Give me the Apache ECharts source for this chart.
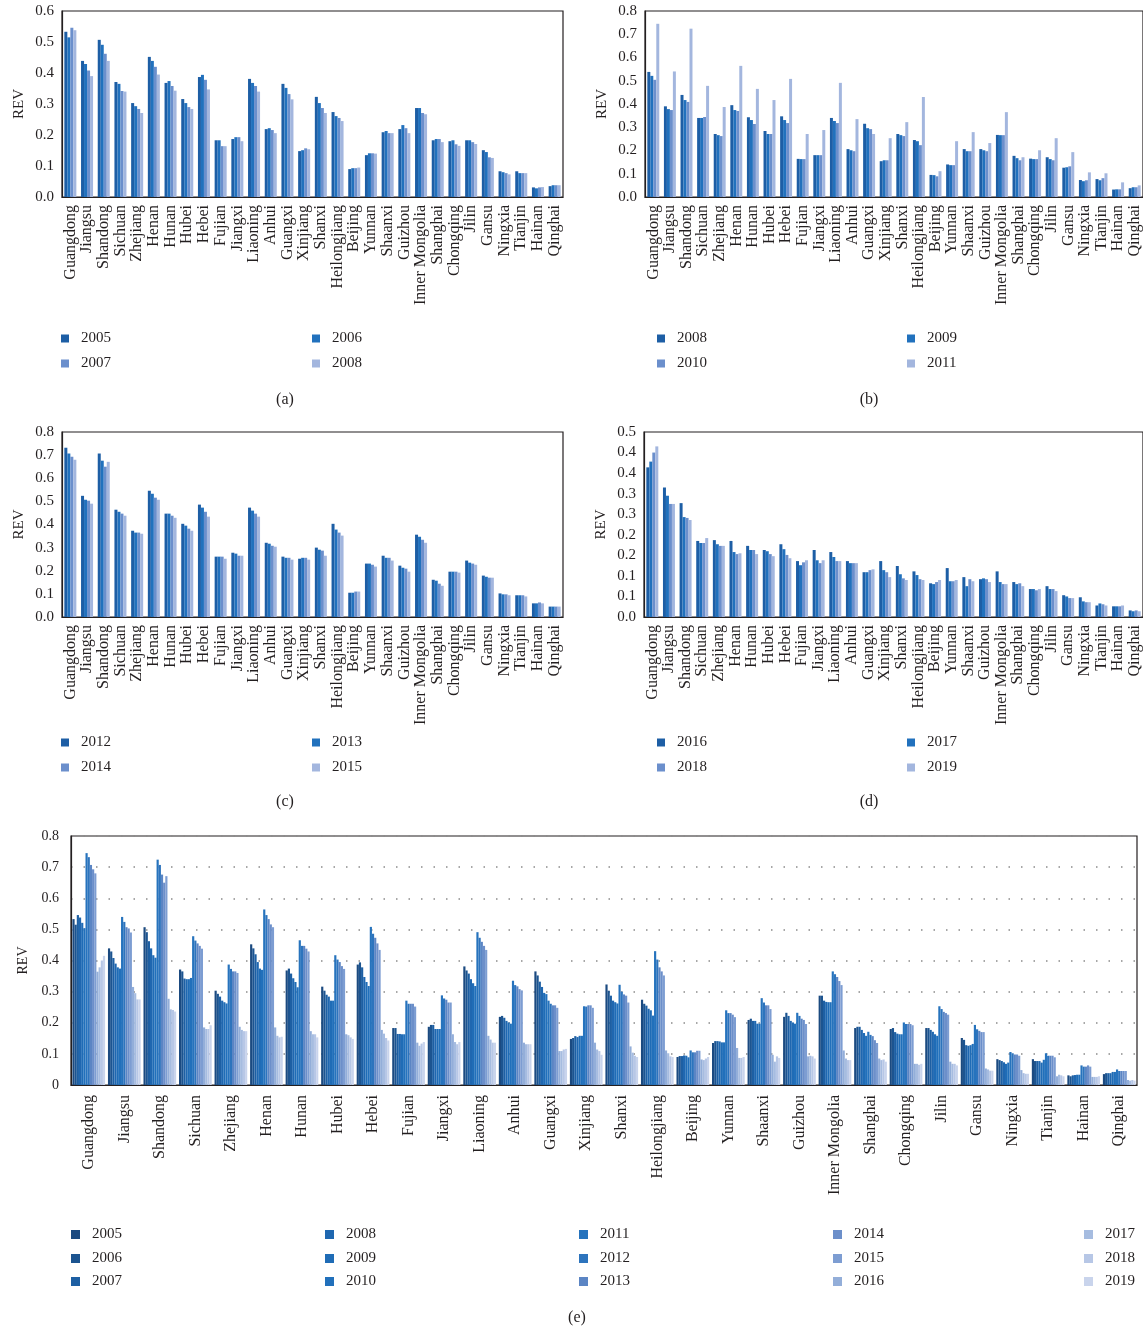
<!DOCTYPE html>
<html>
  <head>
    <meta charset="utf-8">
    <title></title>
    <style>
      html, body { margin: 0; padding: 0; background: #fff; overflow: hidden; }
      #wrap { width: 1143px; height: 1331px; }
    </style>
    <script src="https://cdn.jsdelivr.net/npm/echarts@6/dist/echarts.min.js" charset="utf-8"></script>
  </head>
  <body>
    <div id="wrap"></div>
    <script>
      // provinces, same order in every panel
      var provinces = ['Guangdong','Jiangsu','Shandong','Sichuan','Zhejiang','Henan','Hunan','Hubei','Hebei','Fujian',
        'Jiangxi','Liaoning','Anhui','Guangxi','Xinjiang','Shanxi','Heilongjiang','Beijing','Yunnan','Shaanxi',
        'Guizhou','Inner Mongolia','Shanghai','Chongqing','Jilin','Gansu','Ningxia','Tianjin','Hainan','Qinghai'];

      // REV by year
      var v2005 = [0.533,0.439,0.507,0.371,0.303,0.452,0.368,0.316,0.387,0.183,0.187,0.381,0.219,0.365,0.148,0.323,0.274,0.090,0.135,0.209,0.219,0.287,0.183,0.180,0.183,0.151,0.083,0.083,0.031,0.035];
      var v2006 = [0.515,0.429,0.491,0.365,0.293,0.439,0.374,0.303,0.394,0.183,0.193,0.368,0.222,0.352,0.151,0.303,0.261,0.093,0.141,0.213,0.232,0.287,0.187,0.183,0.183,0.145,0.080,0.077,0.028,0.038];
      var v2007 = [0.546,0.408,0.462,0.342,0.284,0.420,0.358,0.290,0.378,0.164,0.193,0.358,0.216,0.332,0.157,0.287,0.255,0.093,0.141,0.206,0.222,0.271,0.187,0.170,0.177,0.128,0.077,0.077,0.031,0.038];
      var v2008 = [0.538,0.390,0.439,0.340,0.271,0.395,0.343,0.284,0.347,0.164,0.180,0.340,0.206,0.315,0.154,0.271,0.245,0.095,0.140,0.206,0.206,0.267,0.177,0.165,0.171,0.126,0.073,0.077,0.032,0.038];
      var v2009 = [0.521,0.378,0.417,0.340,0.266,0.374,0.331,0.271,0.331,0.163,0.180,0.327,0.201,0.296,0.158,0.266,0.240,0.094,0.137,0.197,0.201,0.266,0.167,0.163,0.163,0.128,0.068,0.072,0.033,0.042];
      var v2010 = [0.504,0.374,0.409,0.344,0.262,0.370,0.314,0.271,0.318,0.163,0.180,0.318,0.197,0.292,0.158,0.262,0.223,0.089,0.137,0.197,0.197,0.266,0.158,0.163,0.158,0.132,0.072,0.081,0.033,0.042];
      var v2011 = [0.745,0.540,0.724,0.478,0.387,0.564,0.465,0.417,0.508,0.271,0.288,0.491,0.335,0.271,0.253,0.322,0.430,0.111,0.240,0.279,0.232,0.365,0.171,0.201,0.253,0.193,0.106,0.102,0.063,0.050];
      var v2012 = [0.732,0.524,0.707,0.464,0.373,0.546,0.447,0.403,0.486,0.261,0.278,0.473,0.321,0.261,0.252,0.300,0.403,0.105,0.231,0.265,0.222,0.356,0.161,0.196,0.244,0.179,0.102,0.094,0.059,0.045];
      var v2013 = [0.707,0.507,0.676,0.455,0.365,0.533,0.447,0.395,0.473,0.261,0.274,0.460,0.317,0.256,0.256,0.291,0.378,0.105,0.231,0.256,0.213,0.347,0.157,0.196,0.235,0.174,0.098,0.094,0.059,0.045];
      var v2014 = [0.693,0.503,0.650,0.447,0.365,0.516,0.438,0.382,0.455,0.261,0.265,0.447,0.308,0.256,0.256,0.287,0.365,0.110,0.226,0.256,0.209,0.334,0.144,0.196,0.231,0.170,0.098,0.094,0.063,0.045];
      var v2015 = [0.680,0.490,0.671,0.438,0.360,0.507,0.429,0.373,0.434,0.252,0.265,0.434,0.304,0.248,0.248,0.265,0.352,0.110,0.218,0.244,0.196,0.321,0.135,0.192,0.226,0.170,0.094,0.089,0.059,0.045];
      var v2016 = [0.364,0.315,0.277,0.185,0.187,0.185,0.173,0.163,0.177,0.136,0.163,0.158,0.136,0.109,0.136,0.124,0.111,0.082,0.119,0.097,0.092,0.111,0.085,0.068,0.075,0.053,0.048,0.028,0.026,0.016];
      var v2017 = [0.378,0.295,0.243,0.180,0.177,0.158,0.163,0.160,0.165,0.126,0.138,0.146,0.131,0.109,0.114,0.104,0.102,0.080,0.087,0.075,0.094,0.085,0.080,0.068,0.068,0.050,0.038,0.033,0.026,0.014];
      var v2018 = [0.400,0.275,0.241,0.180,0.173,0.153,0.163,0.153,0.151,0.133,0.131,0.136,0.131,0.114,0.109,0.094,0.092,0.085,0.087,0.092,0.092,0.080,0.082,0.065,0.068,0.046,0.036,0.031,0.026,0.016];
      var v2019 = [0.415,0.275,0.236,0.192,0.173,0.155,0.153,0.148,0.143,0.138,0.138,0.136,0.131,0.116,0.097,0.090,0.090,0.090,0.090,0.087,0.085,0.080,0.075,0.068,0.063,0.046,0.036,0.028,0.028,0.014];

      var values = {
        '2005': v2005, '2006': v2006, '2007': v2007, '2008': v2008, '2009': v2009,
        '2010': v2010, '2011': v2011, '2012': v2012, '2013': v2013, '2014': v2014,
        '2015': v2015, '2016': v2016, '2017': v2017, '2018': v2018, '2019': v2019
      };
      var allYears = Object.keys(values);

      var colors4 = ['#1d5ea5', '#2171bd', '#6b8fcc', '#a3b6de'];
      var colors15 = ['#1b4a80','#1c5490','#1d5fa3','#1f67b0','#1f6cb6','#2170bb','#2673bd','#2d74bd',
        '#5b85c4','#6c8fca','#7d9dd2','#93aed9','#a6bce0','#b7c7e6','#c9d4ec'];

      var FONT = '"Liberation Serif", "Times New Roman", serif';
      var INK = '#231f20';

      function fmt1(v){ return (Math.floor(v * 10 + 0.5 + 1e-9) / 10).toFixed(1); }

      // 2x2 legend positions for the small panels
      function legend4(x0, x1, y0, y1){ return [[x0, y0], [x1, y0], [x0, y1], [x1, y1]]; }

      var panels = [
        {key:'a', years:['2005','2006','2007','2008'], grid:{left:62, top:11, width:501, height:186},
         max:0.6, interval:0.1, legend: legend4(61, 312, 340, 365), cap:[285, 400]},
        {key:'b', years:['2008','2009','2010','2011'], grid:{left:645, top:11, width:500, height:186},
         max:0.8, interval:0.1, legend: legend4(657, 907, 340, 365), cap:[869, 400]},
        {key:'c', years:['2012','2013','2014','2015'], grid:{left:62, top:432, width:501, height:185},
         max:0.8, interval:0.1, legend: legend4(61, 312, 744, 769), cap:[285, 802]},
        {key:'d', years:['2016','2017','2018','2019'], grid:{left:644, top:432, width:500, height:185},
         max:0.45, interval:0.05, legend: legend4(657, 907, 744, 769), cap:[869, 802]}
      ];

      var grids = [], xAxes = [], yAxes = [], series = [], legends = [], graphics = [];

      function addLegend(name, x, y, w, h){
        legends.push({
          data: [name], left: x, top: y - 9, padding: 0,
          icon: 'rect', itemWidth: w, itemHeight: h, selectedMode: false,
          formatter: function(n){ return n.split('|')[1]; },
          textStyle: {fontFamily: FONT, fontSize: 15, color: INK, padding: [0, 0, 0, 7]}
        });
      }

      panels.forEach(function(p, i){
        grids.push({left:p.grid.left, top:p.grid.top, width:p.grid.width, height:p.grid.height,
          show:true, borderColor:INK, borderWidth:1.2, backgroundColor:'transparent'});
        xAxes.push({
          gridIndex:i, type:'category', data:provinces,
          axisLine:{lineStyle:{color:INK, width:1.2}}, axisTick:{show:false},
          axisLabel:{interval:0, rotate:90, margin:8, fontFamily:FONT, fontSize:16, color:INK}
        });
        yAxes.push({
          gridIndex:i, type:'value', min:0, max:p.max, interval:p.interval,
          name:'REV', nameLocation:'middle', nameGap:35, nameRotate:90,
          nameTextStyle:{fontFamily:FONT, fontSize:15, color:INK},
          axisLine:{show:true, lineStyle:{color:INK, width:1.2}}, axisTick:{show:false},
          splitLine:{show:false},
          axisLabel:{margin:8, fontFamily:FONT, fontSize:15, color:INK, formatter:fmt1}
        });
        p.years.forEach(function(y, j){
          var name = p.key + '|' + y;
          series.push({
            type:'bar', name:name, xAxisIndex:i, yAxisIndex:i, data:values[y],
            itemStyle:{color:colors4[j]}, barGap:'0%', barCategoryGap:'28%'
          });
          addLegend(name, p.legend[j][0], p.legend[j][1], 8, 8);
        });
        graphics.push({type:'text', x:p.cap[0], y:p.cap[1],
          style:{text:'(' + p.key + ')', font:'16px ' + FONT, fill:INK, align:'center', verticalAlign:'middle'}});
      });

      // panel (e): all years
      var ei = panels.length;
      grids.push({left:71, top:836, width:1066, height:249, show:true, borderColor:INK, borderWidth:1.2});
      xAxes.push({
        gridIndex:ei, type:'category', data:provinces,
        axisLine:{lineStyle:{color:INK, width:1.2}}, axisTick:{show:false},
        axisLabel:{interval:0, rotate:90, margin:10, fontFamily:FONT, fontSize:16, color:INK}
      });
      yAxes.push({
        gridIndex:ei, type:'value', min:0, max:0.8, interval:0.1,
        name:'REV', nameLocation:'middle', nameGap:36, nameRotate:90,
        nameTextStyle:{fontFamily:FONT, fontSize:14, color:INK},
        axisLine:{show:true, lineStyle:{color:INK, width:1.2}}, axisTick:{show:false},
        splitLine:{show:true, lineStyle:{color:'#8a8a8a', width:1.5, type:[1.5, 11]}},
        axisLabel:{margin:12, fontFamily:FONT, fontSize:14, color:INK,
          formatter:function(v){ return v === 0 ? '0' : v.toFixed(1); }}
      });
      var eCols = [71, 325, 579, 833, 1084];
      var eRows = [1236, 1260, 1283];
      allYears.forEach(function(y, j){
        var name = 'e|' + y;
        series.push({
          type:'bar', name:name, xAxisIndex:ei, yAxisIndex:ei, data:values[y],
          itemStyle:{color:colors15[j]}, barGap:'0%', barCategoryGap:'8%'
        });
        addLegend(name, eCols[Math.floor(j / 3)], eRows[j % 3], 9, 9);
      });
      graphics.push({type:'text', x:577, y:1318,
        style:{text:'(e)', font:'16px ' + FONT, fill:INK, align:'center', verticalAlign:'middle'}});

      var chart = echarts.init(document.getElementById('wrap'));
      chart.setOption({
        animation:false,
        backgroundColor:'#fff',
        grid:grids, xAxis:xAxes, yAxis:yAxes,
        legend:legends, series:series, graphic:graphics
      });
    </script>
  </body>
</html>
